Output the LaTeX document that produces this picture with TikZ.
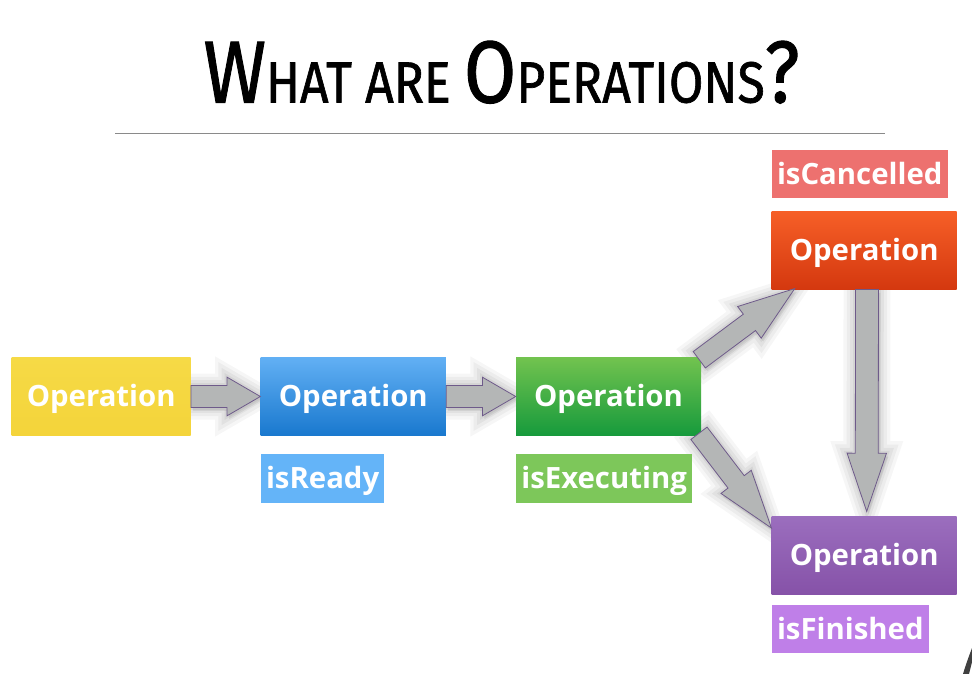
\documentclass[tikz,border=0pt]{standalone}
\usepackage{fontspec}
\usepackage{graphicx}
\usetikzlibrary{calc}
\newfontfamily\opfont{Open Sans}
\newfontfamily\titlefont{Fira Sans}[FakeBold=1.2]
\definecolor{yelA}{HTML}{F6DA46}
\definecolor{yelB}{HTML}{F4D43A}
\definecolor{bluA}{HTML}{62B0F4}
\definecolor{bluB}{HTML}{1978CE}
\definecolor{bluL}{HTML}{64B4F8}
\definecolor{grnA}{HTML}{72C34F}
\definecolor{grnB}{HTML}{169A3C}
\definecolor{grnL}{HTML}{7DC75A}
\definecolor{orgA}{HTML}{F65F27}
\definecolor{orgB}{HTML}{D4380F}
\definecolor{orgL}{HTML}{ED716F}
\definecolor{purA}{HTML}{9B6EBE}
\definecolor{purB}{HTML}{8652A8}
\definecolor{purL}{HTML}{BF7FE8}
\definecolor{arrowgray}{HTML}{B4B6B6}
\definecolor{arrowline}{HTML}{6E5A8A}
\definecolor{rulegray}{HTML}{8A8A8A}
\pgfdeclarelayer{bg}
\pgfsetlayers{bg,main}
% #1 style, #2 start, #3 tip, #4 shaft half width, #5 head half width, #6 head length
\newcommand\fatarr[6]{%
  \coordinate (fah) at ($(#3)!#6!(#2)$);
  \path[#1] ($(#2)!#4!90:(#3)$) -- ($(fah)!#4!90:(#3)$) -- ($(fah)!#5!90:(#3)$) -- (#3)
     -- ($(fah)!#5!-90:(#3)$) -- ($(fah)!#4!-90:(#3)$) -- ($(#2)!#4!-90:(#3)$) -- cycle;
}
\newcommand\tbig[1]{{\fontsize{66}{66}\selectfont #1}}
\newcommand\tsml[1]{{\fontsize{43.5}{44}\selectfont #1}}
\begin{document}
\begin{tikzpicture}[x=0.75pt,y=-0.75pt,
  opbox/.style={rectangle, inner sep=0pt, text=white, text height=15.7pt, text depth=0pt,
    font=\opfont\bfseries\fontsize{22}{26}\selectfont},
  statelbl/.style={rectangle, inner xsep=3.8pt, inner ysep=0pt, minimum height=36.3pt,
    text height=15.7pt, text depth=0pt,
    text=white, anchor=west, font=\opfont\bfseries\fontsize{22}{26}\selectfont},
  fatarrow/.style={fill=arrowgray, draw=arrowline, line width=0.6pt, line join=miter},
  arrshadow/.style={transform canvas={xshift=1.5pt, yshift=-2.5pt}, line join=round,
    preaction={draw=black, draw opacity=0.035, line width=18pt},
    preaction={draw=black, draw opacity=0.04, line width=13pt},
    preaction={draw=black, draw opacity=0.045, line width=8pt},
    preaction={draw=black, draw opacity=0.05, line width=3.5pt},
    fill=black, fill opacity=0.07},
]
\useasboundingbox (0,0) rectangle (972,674);
\begin{pgfonlayer}{bg}
\fill[white] (0,0) rectangle (972,674);
\end{pgfonlayer}

% title
\node[anchor=base, inner sep=0pt] (title) at (501.5,102.5)
  {\resizebox{447pt}{\height}{\titlefont \tbig{W}\tsml{HAT ARE }\tbig{O}\tsml{PERATIONS}\tbig{?}}};
\coordinate (ruleL) at (115,134);
\coordinate (ruleR) at (885,134);
\draw[rulegray, line width=0.75pt] (ruleL) -- (ruleR);

% operation boxes
\node[opbox, minimum width=134.25pt, minimum height=58.8pt, top color=yelA, bottom color=yelB] (yel) at (101.2,396.5) {Operation};
\node[opbox, minimum width=139pt, minimum height=58.8pt, top color=bluA, bottom color=bluB] (blu) at (353.3,396.5) {Operation};
\node[opbox, minimum width=138.75pt, minimum height=58.8pt, top color=grnA, bottom color=grnB] (grn) at (608.5,396.5) {Operation};
\node[opbox, minimum width=138.75pt, minimum height=58.2pt, top color=orgA, bottom color=orgB] (org) at (864.2,250.5) {Operation};
\node[opbox, minimum width=138.75pt, minimum height=58.5pt, top color=purA, bottom color=purB] (pur) at (864.2,555) {Operation};

% state labels
\node[statelbl, fill=bluL] (ready) at (260.7,478.3) {isReady};
\node[statelbl, fill=grnL] (exec) at (516,478.3) {isExecuting};
\node[statelbl, fill=orgL] (canc) at (771.7,174.2) {isCancelled};
\node[statelbl, fill=purL] (fin) at (771.7,629.2) {isFinished};

% arrows
\coordinate (a3s) at ($(grn.north east)+(-2,2.7)$);
\coordinate (a3t) at ($(org.south west)+(23.3,-1)$);
\coordinate (a4s) at ($(grn.south east)+(-2.3,-2.7)$);
\coordinate (a4t) at ($(pur.north west)+(0,12.3)$);
\coordinate (a5s) at ($(org.south)+(2.8,0)$);
\coordinate (a5t) at ($(pur.north)+(2.5,-4.3)$);
\begin{pgfonlayer}{bg}
\fatarr{arrshadow}{yel.east}{blu.west}{8.25pt}{14.5pt}{25pt}
\fatarr{arrshadow}{blu.east}{grn.west}{8.25pt}{14.5pt}{25pt}
\fatarr{arrshadow}{a3s}{a3t}{7.65pt}{14.8pt}{42.4pt}
\fatarr{arrshadow}{a4s}{a4t}{7.65pt}{14.3pt}{43.6pt}
\fatarr{arrshadow}{a5s}{a5t}{8.6pt}{14.8pt}{43.7pt}
\end{pgfonlayer}
\fatarr{fatarrow}{yel.east}{blu.west}{8.25pt}{14.5pt}{25pt}
\fatarr{fatarrow}{blu.east}{grn.west}{8.25pt}{14.5pt}{25pt}
\fatarr{fatarrow}{a3s}{a3t}{7.65pt}{14.8pt}{42.4pt}
\fatarr{fatarrow}{a4s}{a4t}{7.65pt}{14.3pt}{43.6pt}
\fatarr{fatarrow}{a5s}{a5t}{8.6pt}{14.8pt}{43.7pt}

% corner artifact
\fill[black!75] (963,674) .. controls (966,664) and (969,656) .. (972,648) -- (972,662) .. controls (971,666) and (970,670) .. (969,674) -- cycle;
\end{tikzpicture}
\end{document}
